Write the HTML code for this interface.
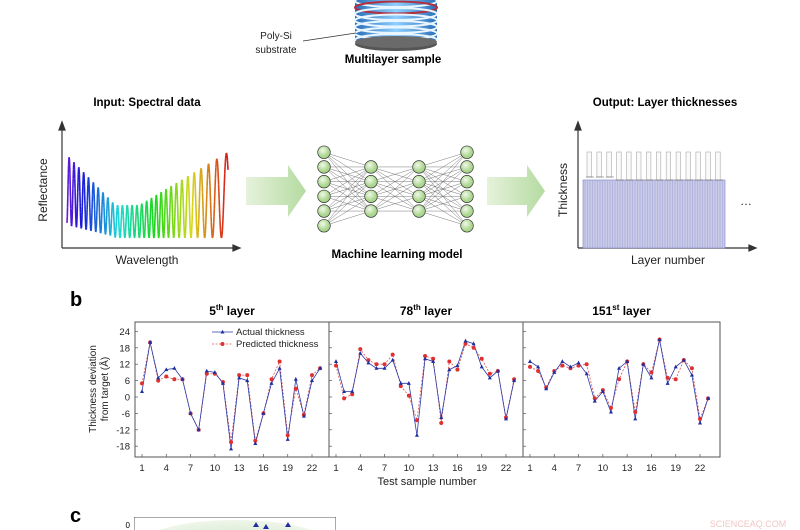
<!DOCTYPE html>
<html><head><meta charset="utf-8"><style>
body{margin:0;background:#fff;width:800px;height:530px;overflow:hidden}
svg text{font-family:"Liberation Sans",sans-serif}
</style></head><body>
<svg id="s" width="800" height="530" viewBox="0 0 800 530" xmlns="http://www.w3.org/2000/svg" style="display:block">
<defs>
<linearGradient id="cyl" x1="0" x2="1"><stop offset="0" stop-color="#2a6fb8"/><stop offset="0.5" stop-color="#8fd0ff"/><stop offset="1" stop-color="#2a6fb8"/></linearGradient>
<linearGradient id="arr" x1="0" x2="1"><stop offset="0" stop-color="#e6f2dc"/><stop offset="1" stop-color="#b5dba0"/></linearGradient>
<radialGradient id="node" cx="0.4" cy="0.35"><stop offset="0" stop-color="#f0f9e8"/><stop offset="1" stop-color="#a9d58c"/></radialGradient>
<radialGradient id="ell"><stop offset="0" stop-color="#cfe6c4"/><stop offset="1" stop-color="#eef6ea"/></radialGradient>
<clipPath id="cbox"><rect x="134" y="517" width="202" height="13"/></clipPath>
</defs>
<g id="cylg"></g>
<line x1="303" y1="41" x2="356" y2="33" stroke="#333" stroke-width="0.8"/>
<text x="276" y="39" font-size="10" text-anchor="middle" fill="#222">Poly-Si</text>
<text x="276" y="53" font-size="10" text-anchor="middle" fill="#222">substrate</text>
<text x="393" y="63" font-size="11.5" font-weight="bold" text-anchor="middle">Multilayer sample</text>
<text x="147" y="106" font-size="11.5" font-weight="bold" text-anchor="middle">Input: Spectral data</text>
<text x="665" y="106" font-size="11.5" font-weight="bold" text-anchor="middle">Output: Layer thicknesses</text>
<g stroke="#333" stroke-width="1.2" fill="#333">
<line x1="62" y1="125" x2="62" y2="248"/><polygon points="59,130 62,122 65,130"/>
<line x1="62" y1="248" x2="236" y2="248"/><polygon points="233,245 240,248 233,251"/>
<line x1="578" y1="125" x2="578" y2="248"/><polygon points="575,130 578,122 581,130"/>
<line x1="578" y1="248" x2="752" y2="248"/><polygon points="749,245 756,248 749,251"/>
</g>
<text transform="translate(47,190) rotate(-90)" font-size="12" text-anchor="middle" fill="#222">Reflectance</text>
<text x="147" y="264" font-size="12" text-anchor="middle" fill="#222">Wavelength</text>
<text transform="translate(567,190) rotate(-90)" font-size="12" text-anchor="middle" fill="#222">Thickness</text>
<text x="668" y="264" font-size="12" text-anchor="middle" fill="#222">Layer number</text>
<text x="740" y="205" font-size="12" fill="#222">…</text>
<g id="spec"></g>
<g id="bars"></g>
<polygon points="246,177 288,177 288,165 306,191 288,217 288,205 246,205" fill="url(#arr)"/>
<polygon points="487,177 527,177 527,165 545,191 527,217 527,205 487,205" fill="url(#arr)"/>
<g id="nn"></g>
<text x="397" y="258" font-size="11.5" font-weight="bold" text-anchor="middle">Machine learning model</text>
<text x="70" y="306" font-size="20" font-weight="bold">b</text>
<text x="70" y="522" font-size="20" font-weight="bold">c</text>
<g id="chart"></g>
<text transform="translate(99,389) rotate(-90)" font-size="10" text-anchor="middle" fill="#222"><tspan x="0" dy="-3">Thickness deviation</tspan><tspan x="0" dy="12">from target (Å)</tspan></text>
<text x="427" y="485" font-size="11" text-anchor="middle" fill="#222">Test sample number</text>
<g clip-path="url(#cbox)">
<rect x="134" y="517" width="202" height="20" fill="#fff" stroke="#555"/>
<ellipse cx="235" cy="545" rx="95" ry="25" fill="url(#ell)"/>
</g>
<text x="130" y="528" font-size="8" text-anchor="end">0</text>
<g fill="#1f2fa0"><polygon points="256,522 259,527 253,527"/><polygon points="266,524 269,529 263,529"/><polygon points="288,522 291,527 285,527"/></g>
<text x="748" y="527" font-size="9" text-anchor="middle" fill="#f3c6c6">SCIENCEAQ.COM</text>
</svg>
<script>
const N="http://www.w3.org/2000/svg";
function el(p,t,a){const e=document.createElementNS(N,t);for(const k in a)e.setAttribute(k,a[k]);p.appendChild(e);return e;}
const cg=document.getElementById('cylg');
el(cg,'ellipse',{cx:396,cy:44,rx:41,ry:7,fill:'#555'});
el(cg,'rect',{x:355,y:0,width:82,height:42,fill:'url(#cyl)'});
for(let y=1;y<42;y+=6.5){el(cg,'ellipse',{cx:396,cy:y,rx:41,ry:6,fill:'none',stroke:(y==7.5?'#b03040':'#eaf6ff'),'stroke-width':2});}
el(cg,'ellipse',{cx:396,cy:42,rx:41,ry:6,fill:'#6a6a6a'});
const sp=document.getElementById('spec');
let prev=null,ph=0;
for(let i=0;i<=600;i++){const t=i/600;const x=67+t*161;
 const freq=t<0.6?0.95:0.95-(t-0.6)*1.3;ph+=freq*Math.PI*2*161/600/4.6;
 const tp=Math.max(150,t<0.3?155+(t/0.3)*50:t<0.45?205:205-(t-0.45)/0.55*53);
 const bot=t<0.3?225+t*40:238;
 const y=(tp+bot)/2+(bot-tp)/2*Math.cos(ph);
 if(prev){const hue=265-t*265;el(sp,'line',{x1:prev[0],y1:prev[1],x2:x,y2:y,stroke:`hsl(${hue},80%,47%)`,'stroke-width':1.6});}
 prev=[x,y];}
const bg=document.getElementById('bars');
el(bg,'rect',{x:583,y:180,width:142,height:68,fill:'#c9cbe8',stroke:'#7a80c0','stroke-width':0.6});
for(let x=585;x<725;x+=2.5)el(bg,'line',{x1:x,y1:180,x2:x,y2:248,stroke:'#9aa0d4','stroke-width':0.5});
for(let i=0;i<14;i++){const x=587+i*9.9;el(bg,'rect',{x:x,y:152,width:4.5,height:i<3?25:28,fill:'#fafafa',stroke:'#aaa','stroke-width':0.6});
 el(bg,'line',{x1:x-1,y1:i<3?177:180,x2:x+7,y2:i<3?177:180,stroke:'#666','stroke-width':0.6});}
const nn=document.getElementById('nn');
const L=[[324,6],[371,4],[419,4],[467,6]];
const pos=L.map(([x,n])=>{const a=[];const h=(n-1)*14.7;for(let j=0;j<n;j++)a.push([x,189-h/2+j*14.7]);return a;});
for(let l=0;l<3;l++)for(const a of pos[l])for(const b of pos[l+1])el(nn,'line',{x1:a[0],y1:a[1],x2:b[0],y2:b[1],stroke:'#555','stroke-width':0.4});
for(const p of pos)for(const a of p)el(nn,'circle',{cx:a[0],cy:a[1],r:6.3,fill:'url(#node)',stroke:'#333','stroke-width':0.7});
const ch=document.getElementById('chart');
const D=[
[[2,20,7,10,10.5,6.5,-6,-12,9.5,9,5,-19,7,6,-17,-6,5,10.5,-15.5,6.5,-7,6,10.5],[5,20,6,7.5,6.5,6.5,-6,-12,8.5,8.5,5.5,-16.5,8,8,-16,-6,6.5,13,-14,3,-6.5,8,10.5]],
[[13,2,2,16,12.5,10.5,10.5,13.5,5,5,-14,14,13,-7.5,10,11.5,20.5,19.5,11,7,9.5,-8,6],[11.5,-0.5,1,17.5,13.5,12,12,15.5,4,0.5,-8.5,15,14,-9.5,13,10,19.5,18,14,8.5,9.5,-7.5,6.5]],
[[13,11,3,9,13,11,12.5,8.5,-1.5,2,-5.5,10.5,13,-8,12,7,21,5,11,13.5,8,-9.5,-0.5],[11,9.5,3.5,9.5,11.5,10.5,11.5,12,-0.5,2.5,-4,6.5,13,-5.5,12,9,21,7,6.5,13.5,10.5,-8,-0.5]]];
const boxes=[[135,329],[329,523],[523,720]];const x1s=[142,336,530];
const titles=[['5','th'],['78','th'],['151','st']];
const Y=v=>397-v*16.4/6;
el(ch,'rect',{x:135,y:322,width:585,height:135,fill:'#fff',stroke:'#555','stroke-width':1});
el(ch,'line',{x1:329,y1:322,x2:329,y2:457,stroke:'#555'});el(ch,'line',{x1:523,y1:322,x2:523,y2:457,stroke:'#555'});
for(let p=0;p<3;p++){
 const cx=(boxes[p][0]+boxes[p][1])/2;
 const t=el(ch,'text',{x:cx,y:315,'font-size':12,'font-weight':'bold','text-anchor':'middle'});
 t.innerHTML=titles[p][0]+'<tspan font-size="8" dy="-5">'+titles[p][1]+'</tspan><tspan dy="5"> layer</tspan>';
 for(let v=-18;v<=24;v+=6){el(ch,'line',{x1:boxes[p][0],y1:Y(v),x2:boxes[p][0]+3,y2:Y(v),stroke:'#555','stroke-width':0.7});
  if(p==0){const tt=el(ch,'text',{x:130,y:Y(v)+3.5,'font-size':9.5,'text-anchor':'end',fill:'#222'});tt.textContent=v;}}
 const X=i=>x1s[p]+i*170/21;
 [1,4,7,10,13,16,19,22].forEach(n=>{const tt=el(ch,'text',{x:X(n-1),y:471,'font-size':9.5,'text-anchor':'middle',fill:'#222'});tt.textContent=n;
  el(ch,'line',{x1:X(n-1),y1:457,x2:X(n-1),y2:454,stroke:'#555','stroke-width':0.7});});
 const [a,b]=D[p];
 el(ch,'polyline',{points:b.map((v,i)=>X(i)+','+Y(v)).join(' '),fill:'none',stroke:'#e05050','stroke-width':0.8,'stroke-dasharray':'2,1.5'});
 el(ch,'polyline',{points:a.map((v,i)=>X(i)+','+Y(v)).join(' '),fill:'none',stroke:'#2a3aa8','stroke-width':0.8});
 b.forEach((v,i)=>el(ch,'circle',{cx:X(i),cy:Y(v),r:2,fill:'#e03030'}));
 a.forEach((v,i)=>{const x=X(i),y=Y(v);el(ch,'polygon',{points:`${x},${y-2.3} ${x+2},${y+1.5} ${x-2},${y+1.5}`,fill:'#1f2fa0'});});
}
el(ch,'line',{x1:212,y1:332,x2:233,y2:332,stroke:'#2a3aa8','stroke-width':0.8});
el(ch,'polygon',{points:'222.5,329.7 224.5,333.5 220.5,333.5',fill:'#1f2fa0'});
el(ch,'line',{x1:212,y1:344,x2:233,y2:344,stroke:'#e05050','stroke-width':0.8,'stroke-dasharray':'2,1.5'});
el(ch,'circle',{cx:222.5,cy:344,r:2,fill:'#e03030'});
let t1=el(ch,'text',{x:236,y:335,'font-size':9.5,fill:'#222'});t1.textContent='Actual thickness';
let t2=el(ch,'text',{x:236,y:347,'font-size':9.5,fill:'#222'});t2.textContent='Predicted thickness';
</script>
</body></html>
